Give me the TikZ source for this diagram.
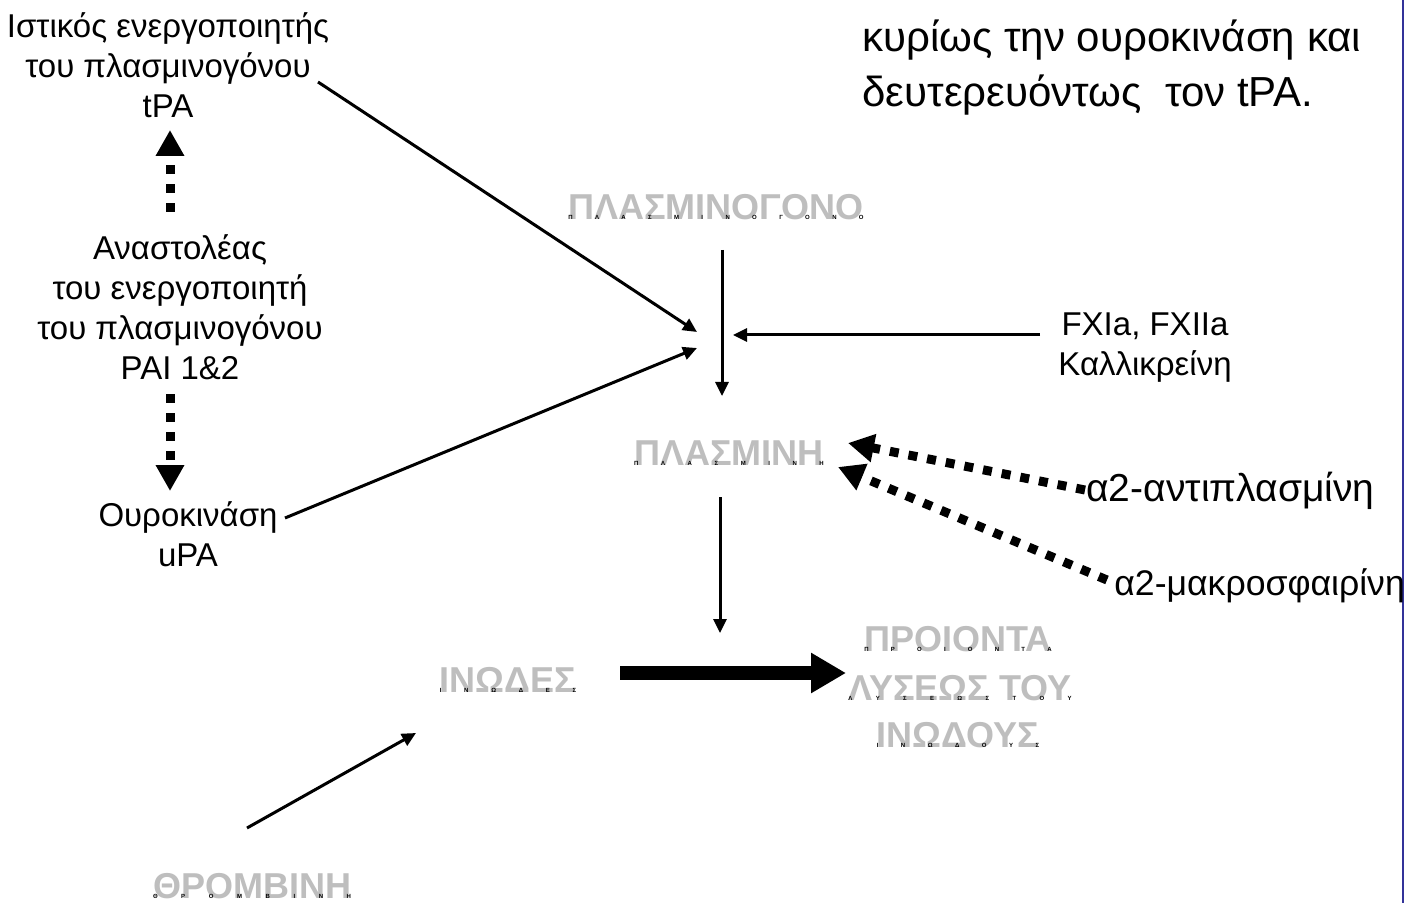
\documentclass[tikz,border=0pt]{standalone}
\usepackage{fontspec}
\setmainfont{Liberation Sans}
\usetikzlibrary{arrows.meta}

\definecolor{edgeblue}{RGB}{51,51,153}
\definecolor{labelgray}{RGB}{190,190,190}

% spread the letters of a word evenly with \hfill (spaces are dropped)
\def\tspX#1#2\tspEnd{#1\ifx\relax#2\relax\else\hfill\tspX#2\tspEnd\fi}
% grey word with a row of tiny black letters on its baseline
\newcommand\glab[1]{\setbox0=\hbox{#1}\copy0\llap{\hbox to \wd0{\fontsize{3}{3}\selectfont\bfseries\color{black}\tspX#1\tspEnd}}}

\tikzset{
  txt/.style={font=\fontsize{16.5}{20}\selectfont, align=center, inner sep=0pt},
  sidetxt/.style={font=\fontsize{19.5}{23}\selectfont, anchor=west, inner sep=0pt},
  bigtxt/.style={font=\fontsize{21}{27.5}\selectfont, align=left, inner sep=0pt},
  glabel/.style={font=\fontsize{18}{24}\selectfont\bfseries, text=labelgray, inner sep=0pt, anchor=base},
  thinarrow/.style={line width=1.5pt, -{Triangle[length=7pt,width=6.5pt]}},
  dotarrow/.style={line width=4.5pt, dash pattern=on 4.5pt off 5pt, -{Triangle[length=13pt,width=13.5pt]}},
  thickarrow/.style={line width=7pt, -{Triangle[length=17.5pt,width=19pt]}}
}

\begin{document}
\begin{tikzpicture}[x=0.5pt, y=-0.5pt]
  \useasboundingbox (0,0) rectangle (1407,903);
  \fill[white] (0,0) rectangle (1407,903);

  % right border line
  \draw[edgeblue, line width=0.7pt] (1403,0) -- (1403,903);

  % black text labels
  \node[txt] (tpa) at (168,65) {Ιστικός ενεργοποιητής\\του πλασμινογόνου\\tPA};
  \node[txt] (pai) at (180,307) {Αναστολέας\\του ενεργοποιητή\\του πλασμινογόνου\\PAI 1\&2};
  \node[txt] (upa) at (188,534) {Ουροκινάση\\uPA};
  \node[txt] (fx) at (1145,348) {FXIa, FXIIa\\Καλλικρείνη};
  \node[sidetxt] (anti) at (1086,491) {α2-αντιπλασμίνη};
  \node[sidetxt, font=\fontsize{17.8}{21}\selectfont] (macro) at (1114,586) {α2-μακροσφαιρίνη};
  \node[bigtxt, anchor=west] (note) at (862,68) {κυρίως την ουροκινάση και\\δευτερευόντως\ \ τον tPA.};

  % grey substance labels
  \node[glabel] (pg) at (716,220) {\glab{ΠΛΑΣΜΙΝΟΓΟΝΟ}};
  \node[glabel] (pl) at (729,465) {\glab{ΠΛΑΣΜΙΝΗ}};
  \node[glabel] (fib) at (508,692) {\glab{ΙΝΩΔΕΣ}};
  \node[glabel] (pr1) at (958,651) {\glab{ΠΡΟΙΟΝΤΑ}};
  \node[glabel] (pr2) at (960,700) {\glab{ΛΥΣΕΩΣ ΤΟΥ}};
  \node[glabel] (pr3) at (958,747) {\glab{ΙΝΩΔΟΥΣ}};
  \node[glabel] (thr) at (252,898) {\glab{ΘΡΟΜΒΙΝΗ}};

  % connector end points
  \coordinate (tpaS) at (318,82);
  \coordinate (tpaE) at (697,332);
  \coordinate (upaS) at (285,518);
  \coordinate (upaE) at (697,348);
  \coordinate (pgS) at (722,250);
  \coordinate (pgE) at (722,396);
  \coordinate (fxS) at (1040,335);
  \coordinate (fxE) at (733,335);
  \coordinate (antiS) at (1085,490);
  \coordinate (antiE) at (848,443);
  \coordinate (macroS) at (1107,580);
  \coordinate (macroE) at (838,467);
  \coordinate (plS) at (720,497);
  \coordinate (plE) at (720,633);
  \coordinate (fibS) at (620,673);
  \coordinate (fibE) at (846,673);
  \coordinate (thrS) at (247,828);
  \coordinate (thrE) at (416,733);
  \coordinate (upS) at (170,212);
  \coordinate (upE) at (170,130);
  \coordinate (dnS) at (170,394);
  \coordinate (dnE) at (170,491);

  % activation arrows
  \draw[thinarrow] (tpaS) -- (tpaE);
  \draw[thinarrow] (upaS) -- (upaE);
  \draw[thinarrow] (pgS) -- (pgE);
  \draw[thinarrow] (fxS) -- (fxE);
  \draw[thinarrow] (plS) -- (plE);
  \draw[thinarrow] (thrS) -- (thrE);
  \draw[thickarrow] (fibS) -- (fibE);

  % inhibition arrows
  \draw[dotarrow] (upS) -- (upE);
  \draw[dotarrow] (dnS) -- (dnE);
  \draw[dotarrow] (antiS) -- (antiE);
  \draw[dotarrow] (macroS) -- (macroE);
\end{tikzpicture}
\end{document}
